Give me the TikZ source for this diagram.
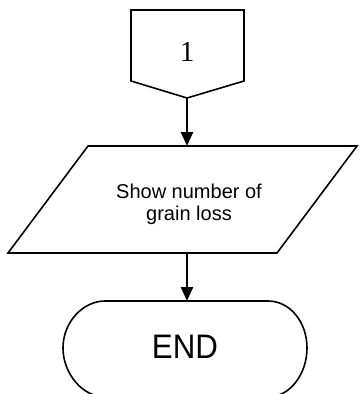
\documentclass[tikz,border=0pt]{standalone}
\usepackage{fontspec}
\setmainfont{Liberation Sans}
\newfontfamily\digitfont{Liberation Serif}
\usetikzlibrary{arrows.meta}
\begin{document}
\begin{tikzpicture}[x=1pt,y=-1pt,
  shapeline/.style={draw=black,line width=1.6pt,line join=miter},
  flowarrow/.style={draw=black,line width=2.4pt,-{Triangle[length=14pt,width=12pt]}},
  label/.style={inner sep=0pt,align=center}]
\useasboundingbox (0,0) rectangle (360,394);
\begin{scope}
\clip (0,0) rectangle (360,394);
% off-page connector
\draw[shapeline] (131,10) -- (244,10) -- (244,81) -- (187,98) -- (131,81) -- cycle;
\coordinate (conbot) at (187,98);
\node[label,font=\digitfont\fontsize{29}{29}\selectfont] (con) at (187,52) {1};
% output parallelogram
\draw[shapeline] (88,146) -- (357,146) -- (277,253) -- (8,253) -- cycle;
\coordinate (iotop) at (187,146);
\coordinate (iobot) at (187,253);
\node[label,font=\fontsize{20}{22}\selectfont] (io) at (189,204) {Show number of\\grain loss};
% terminator
\draw[shapeline] (105,301) -- (268,301)
  .. controls (290,301) and (307,322) .. (307,348)
  .. controls (307,374) and (290,397) .. (268,397)
  -- (105,397)
  .. controls (83,397) and (63,374) .. (63,348)
  .. controls (63,322) and (83,301) .. (105,301) -- cycle;
\coordinate (endtop) at (187,301);
\node[label,font=\fontsize{34}{34}\selectfont,xscale=0.92] (endlbl) at (185,347) {END};
\end{scope}
% connectors
\draw[flowarrow] (conbot) -- (iotop);
\draw[flowarrow] (iobot) -- (endtop);
\end{tikzpicture}
\end{document}
